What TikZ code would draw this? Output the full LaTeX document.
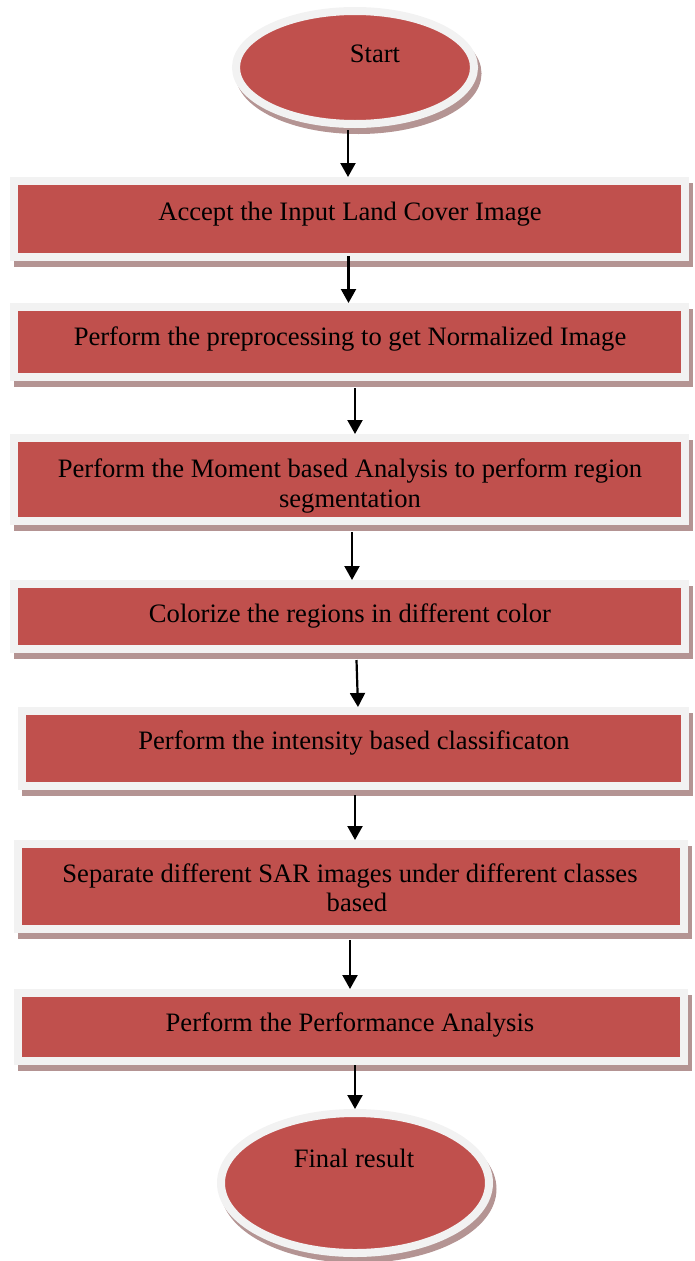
\documentclass[tikz,border=0pt]{standalone}
\usepackage{fontspec}
\setmainfont{Liberation Serif}
\usetikzlibrary{arrows.meta,shadows,shapes.geometric}
\definecolor{redc}{HTML}{C0504D}
\definecolor{grayb}{HTML}{F2F2F2}
\definecolor{shad}{HTML}{B49493}
\begin{document}
\begin{tikzpicture}[x=1pt,y=1pt,
  shapebase/.style={fill=redc, draw=grayb, line width=8pt, inner sep=0pt,
    drop shadow={shadow xshift=3.5pt, shadow yshift=-6pt, fill=shad, draw=shad, line width=8pt, opacity=1}},
  stepbox/.style={shapebase, rectangle},
  termin/.style={shapebase, ellipse},
  lbl/.style={font=\fontsize{26.6}{30}\selectfont, anchor=base, align=center, inner sep=0pt},
  arr/.style={line width=2.2pt, -{Triangle[width=15pt,length=14pt]}}]
\useasboundingbox (0,0) rectangle (694,-1261);

% shapes
\node[termin, minimum width=238pt, minimum height=113pt] (s) at (355,-67.5) {};
\node[stepbox, minimum width=671pt, minimum height=76pt] (b1) at (349.5,-219) {};
\node[stepbox, minimum width=671pt, minimum height=70pt] (b2) at (349.5,-342) {};
\node[stepbox, minimum width=671pt, minimum height=83pt] (b3) at (349.5,-479.5) {};
\node[stepbox, minimum width=671pt, minimum height=65pt] (b4) at (349.5,-616.5) {};
\node[stepbox, minimum width=663pt, minimum height=75pt] (b5) at (353.5,-748.5) {};
\node[stepbox, minimum width=666pt, minimum height=85pt] (b6) at (351,-886.5) {};
\node[stepbox, minimum width=666pt, minimum height=68pt] (b7) at (351,-1027) {};
\node[termin, minimum width=268pt, minimum height=140pt] (f) at (355,-1183) {};

% texts
\node[lbl] (t0) at (375,-62) {Start};
\node[lbl] (t1) at (350,-220) {Accept the Input Land Cover Image};
\node[lbl] (t2) at (350,-345) {Perform the preprocessing to get Normalized Image};
\node[lbl] (t3a) at (350,-477) {Perform the Moment based Analysis to perform region};
\node[lbl] (t3b) at (350,-507) {segmentation};
\node[lbl] (t4) at (350,-622) {Colorize the regions in different color};
\node[lbl] (t5) at (354,-749) {Perform the intensity based classificaton};
\node[lbl] (t6a) at (350,-882) {Separate different SAR images under different classes};
\node[lbl] (t6b) at (357,-911) {based};
\node[lbl] (t7) at (350,-1031) {Perform the Performance Analysis};
\node[lbl] (t8) at (354,-1167) {Final result};

% connectors
\draw[arr] ([xshift=-7pt,yshift=-2pt]s.south) -- ([xshift=-1.5pt]b1.north);
\draw[arr] ([xshift=-1pt,yshift=5pt]b1.south) -- ([xshift=-1pt]b2.north);
\draw[arr] ([xshift=5.5pt,yshift=-7pt]b2.south) -- ([xshift=5.5pt]b3.north);
\draw[arr] ([xshift=2.5pt,yshift=-7pt]b3.south) -- ([xshift=2.5pt]b4.north);
\draw[arr] ([xshift=7pt,yshift=-7pt]b4.south) -- ([xshift=4.5pt]b5.north);
\draw[arr] ([xshift=1.5pt,yshift=-5pt]b5.south) -- ([xshift=4pt]b6.north);
\draw[arr] ([xshift=-1pt,yshift=-7pt]b6.south) -- ([xshift=-1pt]b7.north);
\draw[arr] ([xshift=4pt]b7.south) -- (f.north);
\end{tikzpicture}
\end{document}
